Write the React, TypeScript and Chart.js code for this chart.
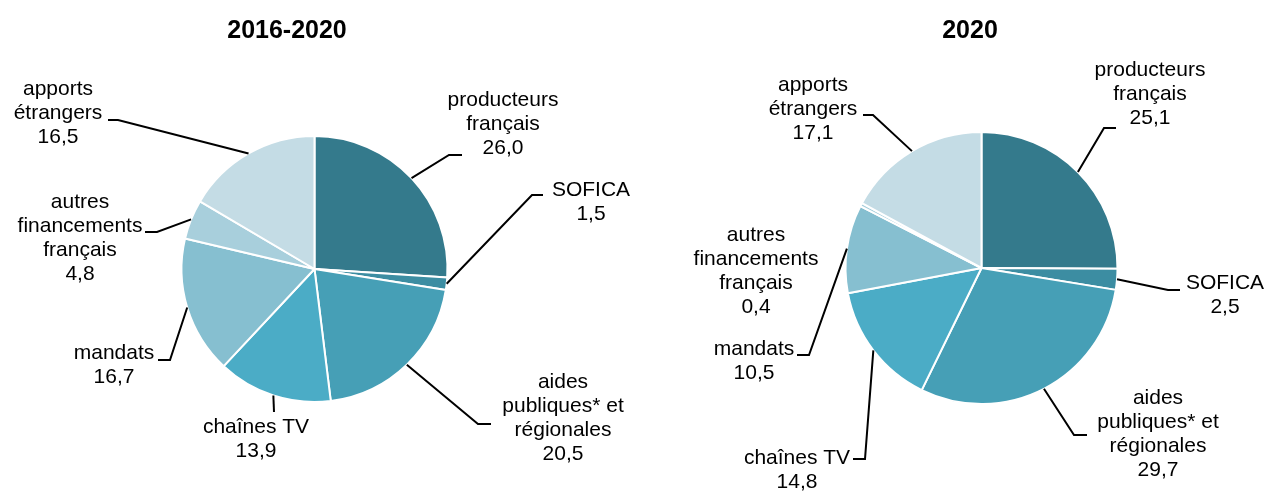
import React, { useEffect, useRef } from "react";
import { Chart, registerables } from "chart.js";

Chart.register(...registerables);

// ---- data ----
const categories = [
  "producteurs\nfrançais",
  "SOFICA",
  "aides\npubliques* et\nrégionales",
  "chaînes TV",
  "mandats",
  "autres\nfinancements\nfrançais",
  "apports\nétrangers",
];
const values20162020 = [26.0, 1.5, 20.5, 13.9, 16.7, 4.8, 16.5];
const values2020 = [25.1, 2.5, 29.7, 14.8, 10.5, 0.4, 17.1];
const titleLeft = "2016-2020";
const titleRight = "2020";

// ---- styles ----
const sliceColors = [
  "#347A8C",
  "#3C8DA2",
  "#469FB6",
  "#4BACC6",
  "#86BFD0",
  "#A8CFDC",
  "#C4DCE5",
];

type Pt = [number, number];
type LabelLayout = { x: number; y: number; path: Pt[] };

// label anchors and leader elbows (page coordinates)
const layoutLeft: LabelLayout[] = [
  { x: 503, y: 100, path: [[449, 155], [462, 155]] },
  { x: 591, y: 190, path: [[532, 195], [543, 195]] },
  { x: 563, y: 382, path: [[478, 424], [491, 424]] },
  { x: 256, y: 427, path: [[274, 412]] },
  { x: 114, y: 353, path: [[170, 360], [158, 360]] },
  { x: 80, y: 202, path: [[157, 232], [145, 232]] },
  { x: 58, y: 89, path: [[118, 120], [108, 120]] },
];
const layoutRight: LabelLayout[] = [
  { x: 1150, y: 70, path: [[1104, 128], [1116, 128]] },
  { x: 1225, y: 283, path: [[1168, 290], [1180, 290]] },
  { x: 1158, y: 398, path: [[1074, 435], [1087, 435]] },
  { x: 797, y: 458, path: [[865, 459], [853, 459]] },
  { x: 754, y: 349, path: [[809, 355], [797, 355]] },
  { x: 756, y: 235, path: [] },
  { x: 813, y: 85, path: [[873, 115], [863, 115]] },
];

const FONT = '"Liberation Sans", Arial, Helvetica, sans-serif';
const CANVAS_W = 633;
const CANVAS_H = 492;

const fmt = (v: number) => v.toFixed(1).replace(".", ",");

const annotatePlugin = {
  id: "annotate",
  afterDatasetsDraw(chart: any, _args: any, opts: any) {
    const ctx: CanvasRenderingContext2D = chart.ctx;
    const meta = chart.getDatasetMeta(0);
    const data: number[] = chart.data.datasets[0].data;
    const ox: number = opts.offsetX;
    ctx.save();
    ctx.fillStyle = "#000";
    ctx.textAlign = "center";
    ctx.textBaseline = "middle";
    ctx.font = `bold 25px ${FONT}`;
    ctx.fillText(opts.title, opts.titleX - ox, opts.titleY);

    ctx.strokeStyle = "#000";
    ctx.lineWidth = 2;
    ctx.font = `21px ${FONT}`;
    meta.data.forEach((arc: any, i: number) => {
      const L: LabelLayout = opts.labels[i];
      const p = arc.getProps(["x", "y", "startAngle", "endAngle", "outerRadius"], true);
      const mid = (p.startAngle + p.endAngle) / 2;
      if (L.path.length) {
        ctx.beginPath();
        ctx.moveTo(p.x + Math.cos(mid) * p.outerRadius, p.y + Math.sin(mid) * p.outerRadius);
        L.path.forEach(([px, py]) => ctx.lineTo(px - ox, py));
        ctx.stroke();
      }
      const lines = String(chart.data.labels[i]).split("\n").concat(fmt(data[i]));
      lines.forEach((t, k) => ctx.fillText(t, L.x - ox, L.y + k * 24));
    });
    ctx.restore();
  },
};

type PieProps = {
  values: number[];
  title: string;
  titleX: number;
  offsetX: number;
  padding: { left: number; right: number; top: number; bottom: number };
  radius: number;
  labels: LabelLayout[];
};

function PieChart(props: PieProps) {
  const ref = useRef<HTMLCanvasElement | null>(null);
  useEffect(() => {
    if (!ref.current) return;
    const chart = new Chart(ref.current, {
      type: "pie",
      data: {
        labels: categories,
        datasets: [
          {
            data: props.values,
            backgroundColor: sliceColors,
            borderColor: "#ffffff",
            borderWidth: 2,
          },
        ],
      },
      options: {
        responsive: false,
        animation: false,
        devicePixelRatio: 1,
        events: [],
        radius: props.radius,
        layout: { padding: props.padding },
        plugins: {
          legend: { display: false },
          tooltip: { enabled: false },
          title: { display: false },
          annotate: {
            title: props.title,
            titleX: props.titleX,
            titleY: 31,
            offsetX: props.offsetX,
            labels: props.labels,
          },
        },
      } as any,
      plugins: [annotatePlugin as any],
    });
    return () => chart.destroy();
  }, []);
  return (
    <canvas
      ref={ref}
      width={CANVAS_W}
      height={CANVAS_H}
      style={{ position: "absolute", left: props.offsetX, top: 0, width: CANVAS_W, height: CANVAS_H }}
    />
  );
}

export default function App() {
  return (
    <div
      style={{
        position: "absolute",
        left: 0,
        top: 0,
        width: 1266,
        height: 492,
        background: "#ffffff",
        overflow: "hidden",
      }}
    >
      <PieChart
        values={values20162020}
        title={titleLeft}
        titleX={287}
        offsetX={0}
        padding={{ left: 14, right: 18, top: 49, bottom: 3 }}
        radius={133}
        labels={layoutLeft}
      />
      <PieChart
        values={values2020}
        title={titleRight}
        titleX={970}
        offsetX={633}
        padding={{ left: 148, right: 84, top: 48, bottom: 4 }}
        radius={136}
        labels={layoutRight}
      />
    </div>
  );
}
